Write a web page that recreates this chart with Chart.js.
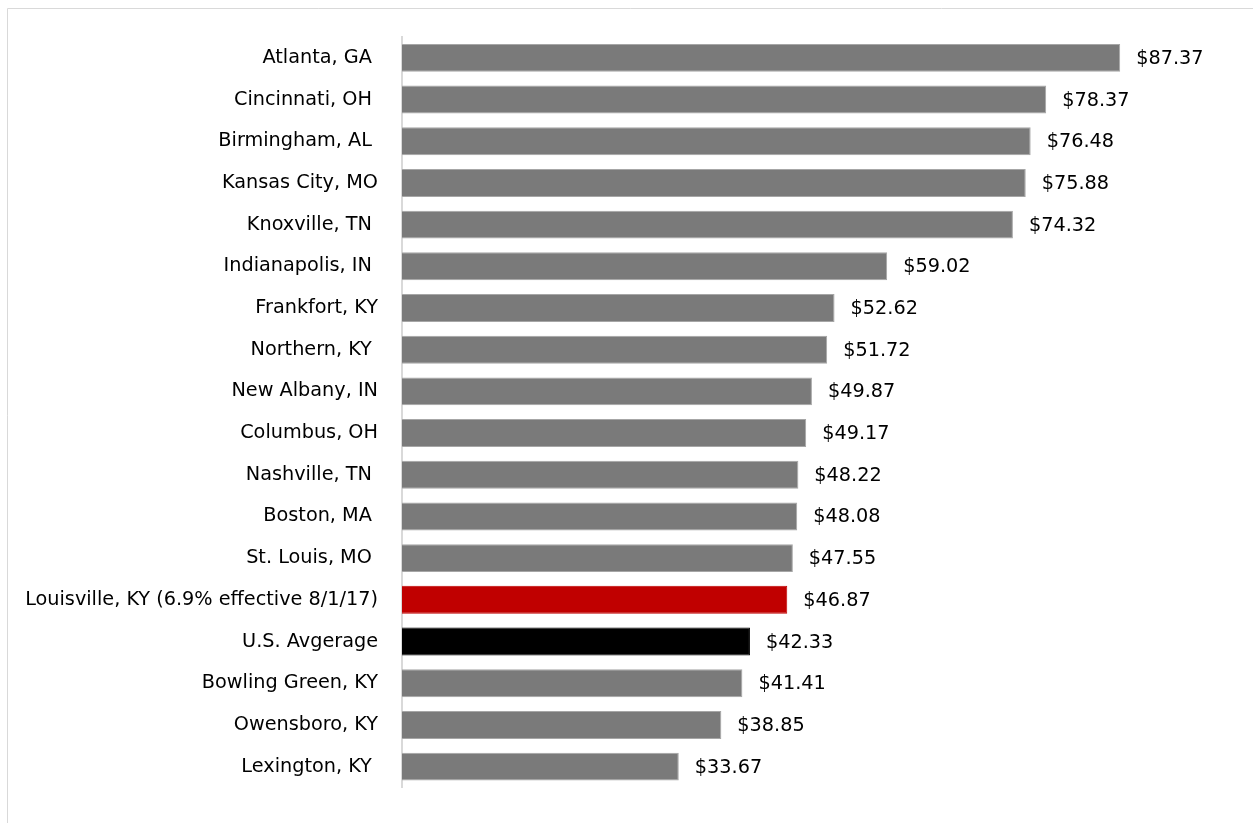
<!DOCTYPE html>
<html>
<head>
<meta charset="utf-8">
<script src="https://cdn.jsdelivr.net/npm/chart.js@4/dist/chart.umd.min.js"></script>
<style>
  html, body { margin: 0; padding: 0; background: #fff; }
  #wrap { position: absolute; left: 0; top: 0; width: 1253px; height: 823px; }
</style>
</head>
<body>
<div id="wrap"><canvas id="chart"></canvas></div>
<script>
// trailing spaces kept where the source labels had them
const cities = [
  'Atlanta, GA ', 'Cincinnati, OH ', 'Birmingham, AL ', 'Kansas City, MO',
  'Knoxville, TN ', 'Indianapolis, IN ', 'Frankfort, KY', 'Northern, KY ',
  'New Albany, IN', 'Columbus, OH', 'Nashville, TN ', 'Boston, MA ',
  'St. Louis, MO ', 'Louisville, KY (6.9% effective 8/1/17)', 'U.S. Avgerage',
  'Bowling Green, KY', 'Owensboro, KY', 'Lexington, KY '
];
const fees = [87.37, 78.37, 76.48, 75.88, 74.32, 59.02, 52.62, 51.72, 49.87,
  49.17, 48.22, 48.08, 47.55, 46.87, 42.33, 41.41, 38.85, 33.67];

const GRAY = '#7a7a7a';
const barColors = cities.map(c =>
  c.startsWith('Louisville') ? '#c00000' : c.startsWith('U.S.') ? '#000000' : GRAY);
const barBorders = cities.map(c =>
  c.startsWith('Louisville') ? '#c00000' : c.startsWith('U.S.') ? '#000000' : '#a6a6a6');

const FONT = '"DejaVu Sans", sans-serif';
const SIZE = 19.25;

const frame = {
  id: 'frame',
  beforeDraw(chart) {
    const ctx = chart.ctx;
    ctx.save();
    ctx.strokeStyle = '#d9d9d9';
    ctx.lineWidth = 1;
    ctx.beginPath();
    ctx.moveTo(7.5, 823);
    ctx.lineTo(7.5, 8.5);
    ctx.lineTo(1253, 8.5);
    ctx.stroke();
    ctx.restore();
  }
};

const valueLabels = {
  id: 'valueLabels',
  afterDatasetsDraw(chart) {
    const ctx = chart.ctx;
    const meta = chart.getDatasetMeta(0);
    ctx.save();
    ctx.font = SIZE + 'px ' + FONT;
    ctx.fillStyle = '#000';
    ctx.textAlign = 'left';
    ctx.textBaseline = 'middle';
    meta.data.forEach((bar, i) => {
      ctx.fillText('$' + fees[i].toFixed(2), bar.x + 16, bar.y + 1);
    });
    ctx.restore();
  }
};

new Chart(document.getElementById('chart'), {
  type: 'bar',
  data: {
    labels: cities,
    datasets: [{
      data: fees,
      backgroundColor: barColors,
      borderColor: barBorders,
      borderWidth: 1,
      barPercentage: 0.67,
      categoryPercentage: 1
    }]
  },
  options: {
    indexAxis: 'y',
    responsive: true,
    maintainAspectRatio: false,
    animation: false,
    layout: { padding: { left: 0, right: 29, top: 37, bottom: 26 } },
    plugins: {
      legend: { display: false },
      tooltip: { enabled: false }
    },
    scales: {
      x: { display: false, min: 0, max: 100 },
      y: {
        grid: { display: false, drawTicks: false },
        border: { display: true, color: '#d9d9d9', width: 2 },
        ticks: {
          color: '#000',
          padding: 24,
          font: { family: FONT, size: SIZE }
        },
        afterFit(scale) { scale.width = 402; }
      }
    }
  },
  plugins: [frame, valueLabels]
});
</script>
</body>
</html>
